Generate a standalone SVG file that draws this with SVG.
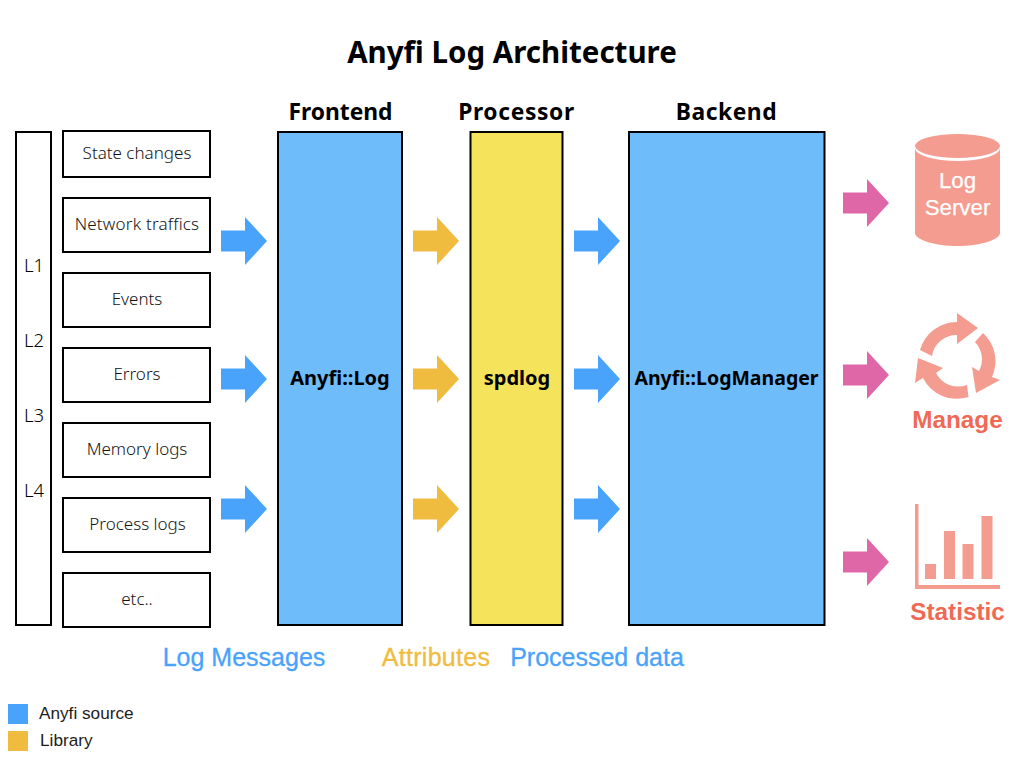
<svg xmlns="http://www.w3.org/2000/svg" width="1024" height="768" viewBox="0 0 1024 768">
<style>
.box{fill:#fff;stroke:#000;stroke-width:2}
.col{stroke:#000;stroke-width:2}
.t{font-family:"Noto Sans","Open Sans",sans-serif;font-size:17px;fill:#111;text-anchor:middle;font-weight:300;opacity:.99}
.lv{font-size:18.500px;fill:#000}
.h{font-family:"Noto Sans","Open Sans",sans-serif;font-weight:700;fill:#000;text-anchor:middle}
.l{font-family:"Liberation Sans",Arial,sans-serif;font-size:25px;text-anchor:middle;stroke-width:.3}
.r{font-family:"Liberation Sans",Arial,sans-serif;font-size:24.300px;font-weight:700;fill:#ef6a55;text-anchor:middle}
.s{fill:#f49c90}
.w{font-family:"Liberation Sans",Arial,sans-serif;font-size:22.300px;fill:#fff;text-anchor:middle;stroke:#fff;stroke-width:.25}
.g{font-family:"Liberation Sans",Arial,sans-serif;font-size:17.200px;fill:#1a1a1a;opacity:.99}
</style>
<defs>
<path id="arrow" d="M0-10.500H24V-24L46 0L24 24V10.500H0Z"/>
</defs>
<rect width="1024" height="768" fill="#fff"/>
<text id="title" class="h" x="512" y="63" font-size="29.500">Anyfi Log Architecture</text>
<text class="h" x="340.500" y="120" font-size="22.800">Frontend</text>
<text class="h" x="516.500" y="120" font-size="22.800" letter-spacing=".65">Processor</text>
<text class="h" x="726.500" y="120" font-size="22.800" letter-spacing=".55">Backend</text>

<g id="levels">
<rect class="box" x="16" y="132" width="35" height="493"/>
<text class="t lv" x="34" y="272">L1</text>
<text class="t lv" x="34" y="347">L2</text>
<text class="t lv" x="34" y="422">L3</text>
<text class="t lv" x="34" y="497">L4</text>
</g>
<g id="n-state"><rect class="box" x="63" y="131" width="147" height="46"/><text class="t" x="137" y="159">State changes</text></g>
<g id="n-network"><rect class="box" x="63" y="198" width="147" height="54"/><text class="t" x="137" y="230" letter-spacing=".2">Network traffics</text></g>
<g id="n-events"><rect class="box" x="63" y="273" width="147" height="54"/><text class="t" x="137" y="305">Events</text></g>
<g id="n-errors"><rect class="box" x="63" y="348" width="147" height="54"/><text class="t" x="137" y="380">Errors</text></g>
<g id="n-memory"><rect class="box" x="63" y="423" width="147" height="54"/><text class="t" x="137" y="455">Memory logs</text></g>
<g id="n-process"><rect class="box" x="63" y="498" width="147" height="54"/><text class="t" x="137.500" y="530">Process logs</text></g>
<g id="n-etc"><rect class="box" x="63" y="573" width="147" height="54"/><text class="t" x="137" y="605">etc..</text></g>

<g id="n-frontend"><rect class="col" x="278" y="132" width="124" height="493" fill="#6fbcfa"/><text class="h" x="340" y="385" font-size="20">Anyfi::Log</text></g>
<g id="n-spdlog"><rect class="col" x="470.500" y="132" width="92" height="493" fill="#f6e35c"/><text class="h" x="517" y="385" font-size="20">spdlog</text></g>
<g id="n-backend"><rect class="col" x="629" y="132" width="195.500" height="493" fill="#6fbcfa"/><text class="h" x="726.500" y="385" font-size="19.500">Anyfi::LogManager</text></g>

<g id="connectors">
<g fill="#4aa3fb">
<use href="#arrow" x="221" y="241"/><use href="#arrow" x="221" y="379"/><use href="#arrow" x="221" y="509"/>
<use href="#arrow" x="574" y="241"/><use href="#arrow" x="574" y="379"/><use href="#arrow" x="574" y="509"/>
</g>
<g fill="#f0bc40">
<use href="#arrow" x="413" y="241"/><use href="#arrow" x="413" y="379"/><use href="#arrow" x="413" y="509"/>
</g>
<g fill="#df67a8">
<use href="#arrow" x="843" y="203"/><use href="#arrow" x="843" y="375"/><use href="#arrow" x="843" y="562"/>
</g>
</g>

<g id="n-logserver">
<ellipse class="s" cx="957.500" cy="146" rx="42.500" ry="12"/>
<path class="s" d="M915 148A42.500 13 0 0 0 1000 148V233C1000 240 979 246 957.500 246C936 246 915 240 915 233Z"/>
<text class="w" x="957.500" y="188">Log</text>
<text class="w" x="957.500" y="215">Server</text>
</g>
<g id="n-manage">
<path class="s" d="M920 350A38 38 0 0 1 957 322V313L978 328L957 344V335A25 25 0 0 0 932 356Z"/>
<path class="s" d="M983 333A38 38 0 0 1 992 377L1000 380L976 393L972 367L979 371A25 25 0 0 0 975 342Z"/>
<path class="s" d="M968.500 397A38 38 0 0 1 923 378L915 383L918 358L943 368L936 373A25 25 0 0 0 967 385Z"/>
<text class="r" x="957.500" y="428">Manage</text>
</g>
<g id="n-statistic">
<path class="s" d="M915 504H918.500V585H1000V589H915Z"/>
<rect class="s" x="925" y="564" width="11" height="15"/>
<rect class="s" x="944" y="531" width="11" height="48"/>
<rect class="s" x="962.500" y="544" width="11" height="35"/>
<rect class="s" x="981.500" y="516" width="11" height="63"/>
<text class="r" x="957.500" y="620">Statistic</text>
</g>

<text class="l" x="244" y="666" fill="#4aa3fb" stroke="#4aa3fb">Log Messages</text>
<text class="l" x="436" y="666" fill="#f0bc40" stroke="#f0bc40" letter-spacing=".3">Attributes</text>
<text class="l" x="597" y="666" fill="#4aa3fb" stroke="#4aa3fb">Processed data</text>

<g id="legend">
<rect x="8" y="704" width="20" height="20" fill="#4aa3fb"/>
<rect x="8" y="731" width="20" height="20" fill="#f0bc40"/>
<text class="g" x="39" y="719">Anyfi source</text>
<text class="g" x="40" y="746">Library</text>
</g>
</svg>
